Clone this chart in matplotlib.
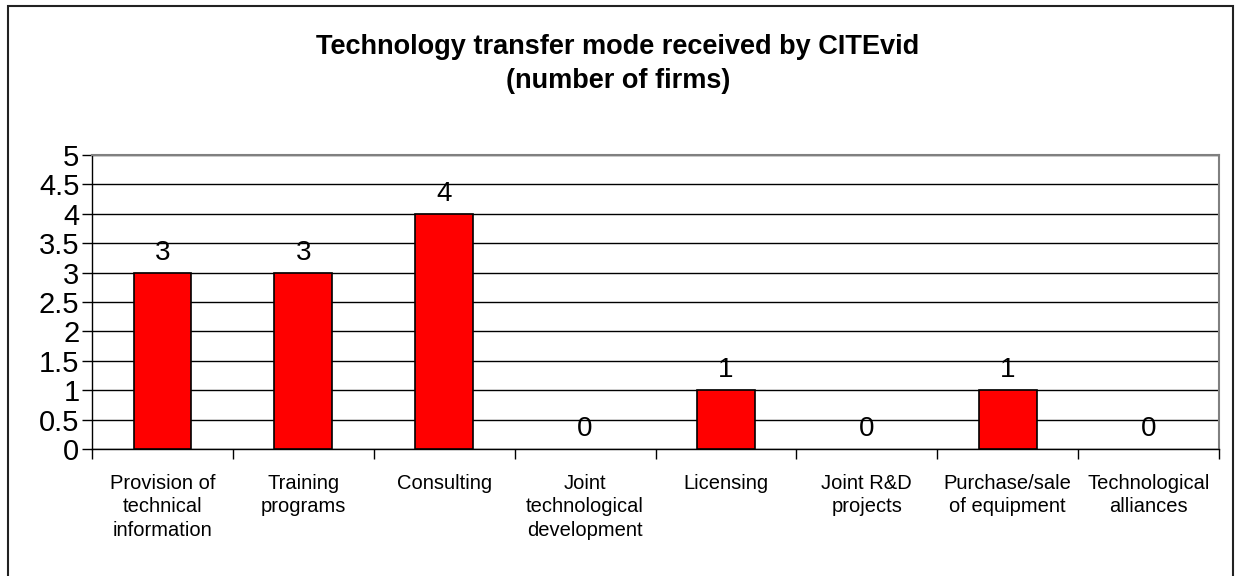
import numpy as np
import matplotlib.pyplot as plt
from matplotlib.patches import Rectangle

plt.rcParams['font.family'] = ['Liberation Sans', 'DejaVu Sans']

# data
categories = ['Provision of\ntechnical\ninformation', 'Training\nprograms', 'Consulting',
              'Joint\ntechnological\ndevelopment', 'Licensing', 'Joint R&D\nprojects',
              'Purchase/sale\nof equipment', 'Technological\nalliances']
firms = [3, 3, 4, 0, 1, 0, 1, 0]
yticks = [0, 0.5, 1, 1.5, 2, 2.5, 3, 3.5, 4, 4.5, 5]
ytick_labels = ['0', '0.5', '1', '1.5', '2', '2.5', '3', '3.5', '4', '4.5', '5']

fig = plt.figure(figsize=(12.36, 5.76), dpi=100)
ax = fig.add_axes([92/1236, 1 - 449/576, (1219 - 92)/1236, (449 - 155)/576])

# outer chart border (bottom edge is off the picture)
fig.patches.append(Rectangle((8/1236, -0.02), (1233 - 8)/1236, 1.02 - 6/576,
                             transform=fig.transFigure, fill=False,
                             edgecolor='#222222', lw=1.5))

x = np.arange(len(categories))
edges = ['black' if v > 0 else 'none' for v in firms]
ax.bar(x, firms, width=0.41, color='#ff0000', edgecolor=edges, linewidth=1.2, zorder=3)

for xi, v in zip(x, firms):
    ax.annotate(str(v), (xi, v), xytext=(0, 5), textcoords='offset points',
                ha='center', va='bottom', fontsize=20)

ax.set_xlim(-0.5, len(categories) - 0.5)
ax.set_ylim(0, 5)
ax.set_yticks(yticks)
ax.set_yticklabels(ytick_labels, fontsize=21)
ax.set_xticks(np.arange(len(categories) + 1) - 0.5, minor=False)
ax.set_xticklabels([])
ax.set_xticks(x, minor=True)
ax.set_xticklabels(categories, minor=True, fontsize=14.5, linespacing=1.3)
ax.tick_params(axis='x', which='minor', length=0, pad=18)
ax.tick_params(axis='x', which='major', length=7, width=1, direction='out')
ax.tick_params(axis='y', length=7, width=1, direction='out', pad=2)

ax.yaxis.grid(True, color='black', lw=1, zorder=0)
ax.set_axisbelow(True)
for s in ['top', 'right']:
    ax.spines[s].set_color('#808080')
    ax.spines[s].set_linewidth(1.5)
for s in ['left', 'bottom']:
    ax.spines[s].set_color('black')
    ax.spines[s].set_linewidth(1)

fig.text(0.5, 1 - 64/576, 'Technology transfer mode received by CITEvid\n(number of firms)',
         ha='center', va='center', fontsize=19.5, fontweight='bold', linespacing=1.35)

fig.savefig('out.png', dpi=100)
